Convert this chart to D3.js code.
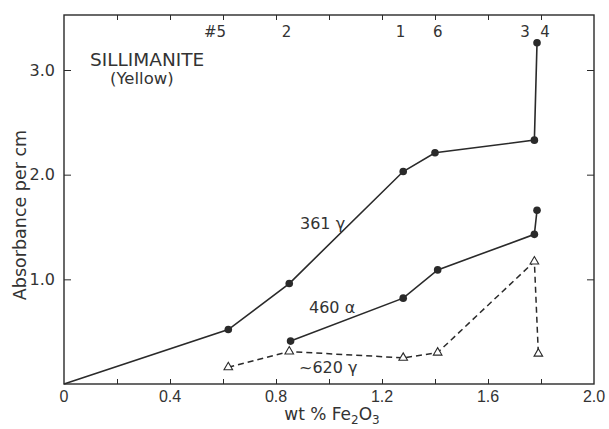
<!DOCTYPE html>
<html>
<head>
<meta charset="utf-8">
<script src="https://cdn.jsdelivr.net/npm/d3@7"></script>
<style>
  html, body { margin: 0; padding: 0; background: #fff; }
  svg { display: block; font-family: "DejaVu Sans", "Liberation Sans", Arial, sans-serif; }
  text { fill: #333; }
</style>
</head>
<body>
<svg id="chart" width="609" height="429"></svg>
<script>
// ---- data ----
const xTicksMajor = [0, 0.4, 0.8, 1.2, 1.6, 2.0];
const xTickLabels = ["0", "0.4", "0.8", "1.2", "1.6", "2.0"];
const xTicksMinor = [0.2, 0.4, 0.6, 0.8, 1.0, 1.2, 1.4, 1.6, 1.8];
const yTicks = [1, 2, 3];
const yTickLabels = ["1.0", "2.0", "3.0"];

const sampleLabels = ["#5", "2", "1", "6", "3", "4"];
const sampleLabelX = [0.57, 0.84, 1.27, 1.41, 1.74, 1.815];

const s361x = [0, 0.62, 0.85, 1.28, 1.40, 1.775, 1.785];
const s361y = [0, 0.52, 0.96, 2.03, 2.21, 2.33, 3.26];

const s460x = [0.855, 1.28, 1.41, 1.775, 1.785];
const s460y = [0.41, 0.82, 1.09, 1.43, 1.66];

const s620x = [0.62, 0.85, 1.28, 1.41, 1.775, 1.79];
const s620y = [0.16, 0.31, 0.25, 0.30, 1.17, 0.29];

// ---- layout ----
const svg = d3.select("#chart");
const x = d3.scaleLinear().domain([0, 2.0]).range([64, 594]);
const y = d3.scaleLinear().domain([0, 3]).range([384, 70]);
const yTop = 15;
const ink = "#2a2a2a";

// frame
svg.append("rect")
  .attr("x", x(0)).attr("y", yTop)
  .attr("width", x(2) - x(0)).attr("height", y(0) - yTop)
  .attr("fill", "none").attr("stroke", ink).attr("stroke-width", 1.4);

// bottom axis (ticks inward)
const gB = svg.append("g").attr("transform", `translate(0,${y(0)})`);
gB.call(d3.axisBottom(x).tickValues(xTicksMinor).tickSize(-5).tickFormat(""));
gB.select(".domain").remove();
gB.selectAll("line").attr("stroke", ink).attr("stroke-width", 1);
gB.selectAll("text.lbl").data(xTicksMajor).enter().append("text")
  .attr("class", "lbl")
  .attr("x", d => x(d)).attr("y", 18)
  .attr("text-anchor", "middle").attr("font-size", 16)
  .text((d, i) => xTickLabels[i]);

// top axis (ticks inward)
const gT = svg.append("g").attr("transform", `translate(0,${yTop})`);
gT.call(d3.axisTop(x).tickValues(xTicksMinor).tickSize(-5).tickFormat(""));
gT.select(".domain").remove();
gT.selectAll("line").attr("stroke", ink).attr("stroke-width", 1);

// sample labels on top
svg.selectAll("text.samp").data(sampleLabels).enter().append("text")
  .attr("class", "samp")
  .attr("x", (d, i) => x(sampleLabelX[i])).attr("y", 37)
  .attr("text-anchor", "middle").attr("font-size", 15)
  .text(d => d);

// left axis
const gL = svg.append("g").attr("transform", `translate(${x(0)},0)`);
gL.call(d3.axisLeft(y).tickValues(yTicks).tickSize(-7).tickFormat((d, i) => yTickLabels[i]).tickPadding(9));
gL.select(".domain").remove();
gL.selectAll("line").attr("stroke", ink).attr("stroke-width", 1);
gL.selectAll("text").attr("font-size", 16).attr("fill", "#333").attr("font-family", "DejaVu Sans, Liberation Sans, Arial, sans-serif");

// right axis
const gR = svg.append("g").attr("transform", `translate(${x(2)},0)`);
gR.call(d3.axisRight(y).tickValues(yTicks).tickSize(-7).tickFormat(""));
gR.select(".domain").remove();
gR.selectAll("line").attr("stroke", ink).attr("stroke-width", 1);

// lines
const line = d3.line().x(d => x(d[0])).y(d => y(d[1]));
const d361 = s361x.map((v, i) => [v, s361y[i]]);
const d460 = s460x.map((v, i) => [v, s460y[i]]);
const d620 = s620x.map((v, i) => [v, s620y[i]]);

svg.append("path").attr("d", line(d361)).attr("fill", "none").attr("stroke", ink).attr("stroke-width", 1.6);
svg.append("path").attr("d", line(d460)).attr("fill", "none").attr("stroke", ink).attr("stroke-width", 1.6);
svg.append("path").attr("d", line(d620)).attr("fill", "none").attr("stroke", ink).attr("stroke-width", 1.5)
  .attr("stroke-dasharray", "6,4");

// markers
svg.selectAll("circle.m361").data(d361.slice(1)).enter().append("circle")
  .attr("cx", d => x(d[0])).attr("cy", d => y(d[1])).attr("r", 3.8).attr("fill", ink);
svg.selectAll("circle.m460").data(d460).enter().append("circle")
  .attr("cx", d => x(d[0])).attr("cy", d => y(d[1])).attr("r", 3.8).attr("fill", ink);
const tri = d3.symbol().type(d3.symbolTriangle).size(32);
svg.selectAll("path.m620").data(d620).enter().append("path")
  .attr("transform", d => `translate(${x(d[0])},${y(d[1])})`)
  .attr("d", tri).attr("fill", "#fff").attr("stroke", ink).attr("stroke-width", 1.1);

// series labels
svg.append("text").attr("x", 300).attr("y", 229).attr("font-size", 16).text("361 γ");
svg.append("text").attr("x", 309).attr("y", 313).attr("font-size", 16).text("460 α");
svg.append("text").attr("x", 299).attr("y", 373).attr("font-size", 16).text("~620 γ");

// title
svg.append("text").attr("x", 90).attr("y", 66).attr("font-size", 18.5).text("SILLIMANITE");
svg.append("text").attr("x", 110).attr("y", 84).attr("font-size", 16.5).text("(Yellow)");

// axis titles
const xt = svg.append("text").attr("x", 332).attr("y", 420).attr("text-anchor", "middle").attr("font-size", 17);
xt.append("tspan").text("wt % Fe");
xt.append("tspan").attr("dy", 4).attr("font-size", 12).text("2");
xt.append("tspan").attr("dy", -4).text("O");
xt.append("tspan").attr("dy", 4).attr("font-size", 12).text("3");

svg.append("text")
  .attr("transform", "translate(26,215) rotate(-90)")
  .attr("text-anchor", "middle").attr("font-size", 17.5)
  .text("Absorbance per cm");
</script>
</body>
</html>
